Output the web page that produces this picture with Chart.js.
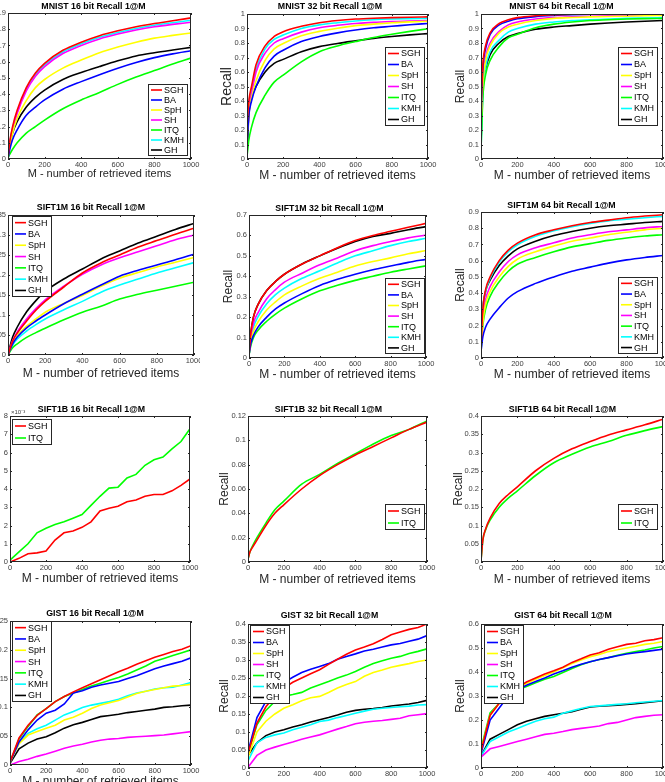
<!DOCTYPE html>
<html>
<head>
<meta charset="utf-8">
<script src="https://cdn.jsdelivr.net/npm/chart.js@4.4.1/dist/chart.umd.min.js"></script>
<style>
  html, body { margin: 0; padding: 0; background: #fff; }
  #page { position: relative; width: 665px; height: 782px; overflow: hidden; background: #fff; }
  #page canvas { position: absolute; }
</style>
</head>
<body>
<div id="page"></div>
<script>
// ----------------------------
// DATA
// ----------------------------
const M_SMOOTH = [1, 10, 25, 50, 100, 150, 200, 300, 400, 500, 600, 700, 800, 900, 1000];
const M_FINE = [0, 50, 100, 150, 200, 250, 300, 350, 400, 450, 500, 550, 600, 650, 700, 750, 800, 850, 900, 950, 1000];
const X_TICKS = [0, 200, 400, 600, 800, 1000];
const METHODS = ["SGH", "BA", "SpH", "SH", "ITQ", "KMH", "GH"];

const MNIST16 = {
  SGH: [0.02, 0.11, 0.2, 0.3, 0.44, 0.53, 0.59, 0.67, 0.72, 0.76, 0.79, 0.815, 0.835, 0.852, 0.87],
  BA:  [0.01, 0.06, 0.12, 0.18, 0.27, 0.32, 0.364, 0.43, 0.477, 0.52, 0.56, 0.595, 0.625, 0.648, 0.667],
  SpH: [0.02, 0.08, 0.16, 0.25, 0.36, 0.44, 0.49, 0.56, 0.61, 0.655, 0.69, 0.72, 0.745, 0.762, 0.777],
  SH:  [0.02, 0.1, 0.18, 0.28, 0.42, 0.51, 0.57, 0.65, 0.7, 0.74, 0.77, 0.795, 0.815, 0.83, 0.843],
  ITQ: [0.01, 0.03, 0.06, 0.1, 0.16, 0.2, 0.24, 0.31, 0.364, 0.41, 0.46, 0.505, 0.545, 0.585, 0.622],
  KMH: [0.02, 0.1, 0.19, 0.29, 0.43, 0.52, 0.58, 0.66, 0.71, 0.75, 0.78, 0.805, 0.825, 0.84, 0.855],
  GH:  [0.02, 0.09, 0.16, 0.23, 0.32, 0.38, 0.425, 0.49, 0.533, 0.57, 0.605, 0.635, 0.655, 0.672, 0.688]
};
const MNIST32 = {
  SGH: [0.25, 0.4, 0.5, 0.65, 0.78, 0.845, 0.878, 0.915, 0.94, 0.955, 0.965, 0.971, 0.975, 0.978, 0.98],
  BA:  [0.12, 0.3, 0.4, 0.5, 0.63, 0.71, 0.75, 0.81, 0.845, 0.87, 0.89, 0.905, 0.915, 0.926, 0.935],
  SpH: [0.15, 0.32, 0.42, 0.54, 0.68, 0.76, 0.797, 0.85, 0.88, 0.902, 0.92, 0.93, 0.94, 0.946, 0.95],
  SH:  [0.2, 0.36, 0.45, 0.6, 0.73, 0.8, 0.83, 0.875, 0.905, 0.922, 0.935, 0.942, 0.948, 0.951, 0.954],
  ITQ: [0.03, 0.13, 0.22, 0.32, 0.44, 0.53, 0.578, 0.67, 0.74, 0.78, 0.81, 0.838, 0.86, 0.88, 0.898],
  KMH: [0.2, 0.38, 0.48, 0.62, 0.76, 0.825, 0.855, 0.9, 0.925, 0.94, 0.952, 0.96, 0.965, 0.968, 0.97],
  GH:  [0.05, 0.3, 0.42, 0.5, 0.6, 0.66, 0.687, 0.74, 0.775, 0.797, 0.815, 0.832, 0.845, 0.856, 0.865]
};
const MNIST64 = {
  SGH: [0.4, 0.65, 0.78, 0.87, 0.935, 0.96, 0.975, 0.988, 0.995, 0.998, 1.0, 1.0, 1.0, 1.0, 1.0],
  BA:  [0.35, 0.62, 0.76, 0.86, 0.925, 0.95, 0.967, 0.982, 0.99, 0.995, 0.998, 1.0, 1.0, 1.0, 1.0],
  SpH: [0.3, 0.52, 0.68, 0.78, 0.87, 0.91, 0.93, 0.955, 0.97, 0.976, 0.98, 0.983, 0.985, 0.988, 0.99],
  SH:  [0.3, 0.55, 0.7, 0.8, 0.88, 0.925, 0.945, 0.965, 0.975, 0.98, 0.985, 0.988, 0.99, 0.992, 0.995],
  ITQ: [0.1, 0.42, 0.58, 0.68, 0.775, 0.835, 0.86, 0.905, 0.93, 0.945, 0.955, 0.96, 0.965, 0.968, 0.97],
  KMH: [0.1, 0.45, 0.63, 0.74, 0.82, 0.875, 0.9, 0.93, 0.945, 0.955, 0.96, 0.965, 0.97, 0.972, 0.975],
  GH:  [0.15, 0.5, 0.62, 0.72, 0.8, 0.845, 0.865, 0.895, 0.91, 0.92, 0.93, 0.938, 0.945, 0.95, 0.955]
};
const SIFT1M16 = {
  SGH: [0.001, 0.015, 0.035, 0.055, 0.085, 0.112, 0.134, 0.17, 0.205, 0.23, 0.25, 0.27, 0.286, 0.302, 0.317],
  BA:  [0.001, 0.012, 0.028, 0.045, 0.068, 0.085, 0.1, 0.128, 0.152, 0.175, 0.197, 0.212, 0.225, 0.238, 0.252],
  SpH: [0.001, 0.013, 0.03, 0.048, 0.072, 0.09, 0.107, 0.129, 0.149, 0.172, 0.192, 0.206, 0.22, 0.232, 0.244],
  SH:  [0.001, 0.016, 0.036, 0.058, 0.09, 0.116, 0.138, 0.172, 0.202, 0.225, 0.243, 0.258, 0.273, 0.288, 0.3],
  ITQ: [0.001, 0.008, 0.018, 0.028, 0.044, 0.056, 0.067, 0.088, 0.107, 0.122, 0.14, 0.152, 0.162, 0.172, 0.182],
  KMH: [0.001, 0.011, 0.025, 0.04, 0.06, 0.076, 0.09, 0.113, 0.134, 0.157, 0.175, 0.19, 0.205, 0.218, 0.231],
  GH:  [0.002, 0.02, 0.045, 0.07, 0.108, 0.136, 0.159, 0.19, 0.215, 0.24, 0.26, 0.28, 0.297, 0.314, 0.329]
};
const SIFT1M32 = {
  SGH: [0.03, 0.12, 0.2, 0.26, 0.33, 0.375, 0.41, 0.46, 0.5, 0.54, 0.575, 0.6, 0.62, 0.64, 0.659],
  BA:  [0.02, 0.07, 0.11, 0.15, 0.2, 0.24, 0.269, 0.315, 0.355, 0.385, 0.41, 0.432, 0.45, 0.468, 0.483],
  SpH: [0.02, 0.08, 0.13, 0.175, 0.235, 0.275, 0.309, 0.353, 0.39, 0.42, 0.45, 0.472, 0.49, 0.51, 0.526],
  SH:  [0.03, 0.1, 0.17, 0.22, 0.29, 0.335, 0.371, 0.415, 0.456, 0.49, 0.525, 0.55, 0.57, 0.588, 0.602],
  ITQ: [0.02, 0.06, 0.1, 0.135, 0.18, 0.215, 0.244, 0.29, 0.329, 0.356, 0.38, 0.4, 0.42, 0.436, 0.451],
  KMH: [0.02, 0.09, 0.15, 0.2, 0.265, 0.31, 0.342, 0.39, 0.427, 0.465, 0.5, 0.525, 0.55, 0.57, 0.586],
  GH:  [0.03, 0.12, 0.2, 0.26, 0.33, 0.375, 0.41, 0.46, 0.5, 0.537, 0.57, 0.595, 0.61, 0.628, 0.643]
};
const SIFT1M64 = {
  SGH: [0.1, 0.3, 0.42, 0.5, 0.6, 0.665, 0.708, 0.76, 0.79, 0.815, 0.835, 0.85, 0.865, 0.875, 0.883],
  BA:  [0.05, 0.13, 0.19, 0.24, 0.31, 0.37, 0.409, 0.46, 0.5, 0.535, 0.56, 0.585, 0.605, 0.62, 0.632],
  SpH: [0.08, 0.22, 0.33, 0.41, 0.5, 0.565, 0.609, 0.655, 0.69, 0.72, 0.74, 0.76, 0.775, 0.79, 0.8],
  SH:  [0.08, 0.25, 0.36, 0.44, 0.53, 0.595, 0.636, 0.68, 0.71, 0.74, 0.76, 0.778, 0.79, 0.802, 0.811],
  ITQ: [0.06, 0.2, 0.3, 0.38, 0.47, 0.535, 0.578, 0.62, 0.655, 0.685, 0.705, 0.725, 0.74, 0.752, 0.76],
  KMH: [0.1, 0.3, 0.41, 0.49, 0.59, 0.655, 0.698, 0.75, 0.785, 0.81, 0.83, 0.845, 0.855, 0.865, 0.873],
  GH:  [0.1, 0.3, 0.41, 0.48, 0.57, 0.63, 0.673, 0.72, 0.755, 0.78, 0.8, 0.815, 0.825, 0.835, 0.842]
};
const SIFT1B16 = {
  SGH: [0, 0.0002, 0.00045, 0.0005, 0.0006, 0.0012, 0.0016, 0.0017, 0.0019, 0.0022, 0.0028, 0.00295, 0.00305, 0.0033, 0.0034, 0.0036, 0.0037, 0.0037, 0.0039, 0.0042, 0.00455],
  ITQ: [0.0001, 0.00055, 0.001, 0.0016, 0.00185, 0.00205, 0.0022, 0.0024, 0.0026, 0.0031, 0.0036, 0.00405, 0.0041, 0.0046, 0.0048, 0.0053, 0.0056, 0.00575, 0.0062, 0.0066, 0.0073]
};
const SIFT1B32 = {
  SGH: [0.003, 0.008, 0.012, 0.018, 0.03, 0.04, 0.047, 0.06, 0.071, 0.08, 0.088, 0.095, 0.102, 0.109, 0.115],
  ITQ: [0.003, 0.008, 0.013, 0.02, 0.032, 0.043, 0.05, 0.064, 0.072, 0.081, 0.089, 0.097, 0.104, 0.109, 0.116]
};
const SIFT1B64 = {
  SGH: [0.01, 0.06, 0.09, 0.12, 0.16, 0.185, 0.206, 0.25, 0.284, 0.31, 0.33, 0.348, 0.362, 0.376, 0.391],
  ITQ: [0.01, 0.06, 0.088, 0.115, 0.15, 0.175, 0.195, 0.237, 0.272, 0.295, 0.315, 0.33, 0.347, 0.36, 0.371]
};
const GIST16 = {
  SGH: [0.005, 0.047, 0.069, 0.086, 0.098, 0.11, 0.119, 0.127, 0.134, 0.141, 0.148, 0.155, 0.162, 0.168, 0.175, 0.181, 0.187, 0.192, 0.197, 0.201, 0.207],
  BA:  [0.005, 0.04, 0.061, 0.078, 0.09, 0.095, 0.106, 0.125, 0.129, 0.135, 0.139, 0.142, 0.145, 0.15, 0.155, 0.161, 0.167, 0.172, 0.176, 0.18, 0.186],
  SpH: [0.005, 0.037, 0.052, 0.058, 0.064, 0.069, 0.078, 0.083, 0.09, 0.098, 0.104, 0.108, 0.112, 0.118, 0.124, 0.128, 0.131, 0.134, 0.137, 0.138, 0.14],
  SH:  [0, 0.006, 0.01, 0.015, 0.019, 0.024, 0.029, 0.033, 0.036, 0.04, 0.043, 0.045, 0.046, 0.048, 0.049, 0.05, 0.051, 0.052, 0.054, 0.056, 0.058],
  ITQ: [0.005, 0.045, 0.067, 0.087, 0.098, 0.11, 0.119, 0.125, 0.131, 0.137, 0.142, 0.147, 0.152, 0.158, 0.165, 0.172, 0.18, 0.185, 0.19, 0.195, 0.2],
  KMH: [0.005, 0.038, 0.055, 0.063, 0.069, 0.078, 0.087, 0.093, 0.1, 0.104, 0.107, 0.11, 0.114, 0.12, 0.125, 0.128, 0.132, 0.134, 0.135, 0.139, 0.143],
  GH:  [0.003, 0.028, 0.038, 0.045, 0.049, 0.056, 0.064, 0.07, 0.074, 0.079, 0.084, 0.086, 0.088, 0.091, 0.093, 0.095, 0.097, 0.1, 0.101, 0.103, 0.104]
};
const GIST32 = {
  SGH: [0.04, 0.125, 0.17, 0.2, 0.222, 0.238, 0.25, 0.262, 0.273, 0.288, 0.302, 0.316, 0.328, 0.336, 0.345, 0.357, 0.37, 0.378, 0.385, 0.39, 0.4],
  BA:  [0.045, 0.14, 0.185, 0.215, 0.237, 0.252, 0.265, 0.274, 0.282, 0.29, 0.302, 0.31, 0.317, 0.325, 0.33, 0.336, 0.342, 0.346, 0.352, 0.358, 0.368],
  SpH: [0.03, 0.1, 0.13, 0.15, 0.166, 0.176, 0.187, 0.195, 0.199, 0.21, 0.222, 0.232, 0.24, 0.255, 0.265, 0.272, 0.28, 0.285, 0.29, 0.296, 0.3],
  SH:  [0.002, 0.035, 0.05, 0.058, 0.065, 0.072, 0.08, 0.086, 0.092, 0.1, 0.108, 0.115, 0.123, 0.127, 0.13, 0.132, 0.135, 0.138, 0.145, 0.148, 0.151],
  ITQ: [0.04, 0.12, 0.16, 0.185, 0.199, 0.204, 0.21, 0.222, 0.231, 0.24, 0.25, 0.258, 0.268, 0.28, 0.29, 0.298, 0.305, 0.31, 0.318, 0.324, 0.331],
  KMH: [0.02, 0.07, 0.085, 0.092, 0.097, 0.106, 0.113, 0.12, 0.129, 0.133, 0.14, 0.146, 0.152, 0.158, 0.163, 0.166, 0.168, 0.17, 0.172, 0.175, 0.176],
  GH:  [0.035, 0.07, 0.09, 0.1, 0.106, 0.114, 0.12, 0.128, 0.134, 0.14, 0.147, 0.155, 0.16, 0.163, 0.165, 0.168, 0.172, 0.175, 0.178, 0.182, 0.188]
};
const GIST64 = {
  SGH: [0.07, 0.22, 0.27, 0.31, 0.335, 0.358, 0.375, 0.392, 0.405, 0.42, 0.44, 0.455, 0.471, 0.48, 0.495, 0.505, 0.515, 0.52, 0.53, 0.535, 0.543],
  BA:  [0.06, 0.2, 0.25, 0.3, 0.325, 0.345, 0.36, 0.375, 0.392, 0.405, 0.42, 0.432, 0.443, 0.452, 0.46, 0.468, 0.475, 0.48, 0.485, 0.49, 0.495],
  SpH: [0.07, 0.22, 0.27, 0.31, 0.33, 0.352, 0.37, 0.385, 0.4, 0.418, 0.435, 0.45, 0.464, 0.473, 0.485, 0.493, 0.5, 0.507, 0.515, 0.52, 0.527],
  SH:  [0.045, 0.08, 0.09, 0.1, 0.11, 0.12, 0.13, 0.14, 0.145, 0.152, 0.16, 0.165, 0.17, 0.175, 0.185, 0.19, 0.2, 0.21, 0.215, 0.22, 0.222],
  ITQ: [0.08, 0.23, 0.27, 0.305, 0.325, 0.34, 0.355, 0.37, 0.381, 0.398, 0.415, 0.43, 0.443, 0.452, 0.46, 0.47, 0.478, 0.485, 0.492, 0.5, 0.506],
  KMH: [0.05, 0.11, 0.13, 0.15, 0.165, 0.18, 0.195, 0.205, 0.212, 0.228, 0.238, 0.248, 0.256, 0.259, 0.262, 0.265, 0.268, 0.272, 0.275, 0.278, 0.281],
  GH:  [0.05, 0.12, 0.14, 0.16, 0.18, 0.195, 0.205, 0.215, 0.222, 0.228, 0.235, 0.245, 0.254, 0.257, 0.26, 0.262, 0.265, 0.268, 0.272, 0.276, 0.28]
};

const CHARTS = [
  { title: "MNIST 16 bit Recall 1@M",  x: M_SMOOTH, data: MNIST16,  yMax: 0.9,   yStep: 0.1 },
  { title: "MNIST 32 bit Recall 1@M",  x: M_SMOOTH, data: MNIST32,  yMax: 1,     yStep: 0.1 },
  { title: "MNIST 64 bit Recall 1@M",  x: M_SMOOTH, data: MNIST64,  yMax: 1,     yStep: 0.1 },
  { title: "SIFT1M 16 bit Recall 1@M", x: M_SMOOTH, data: SIFT1M16, yMax: 0.35,  yStep: 0.05 },
  { title: "SIFT1M 32 bit Recall 1@M", x: M_SMOOTH, data: SIFT1M32, yMax: 0.7,   yStep: 0.1 },
  { title: "SIFT1M 64 bit Recall 1@M", x: M_SMOOTH, data: SIFT1M64, yMax: 0.9,   yStep: 0.1 },
  { title: "SIFT1B 16 bit Recall 1@M", x: M_FINE,   data: SIFT1B16, yMax: 0.008, yStep: 0.001, exponent: "×10⁻³" },
  { title: "SIFT1B 32 bit Recall 1@M", x: M_SMOOTH, data: SIFT1B32, yMax: 0.12,  yStep: 0.02 },
  { title: "SIFT1B 64 bit Recall 1@M", x: M_SMOOTH, data: SIFT1B64, yMax: 0.4,   yStep: 0.05 },
  { title: "GIST 16 bit Recall 1@M",   x: M_FINE,   data: GIST16,   yMax: 0.25,  yStep: 0.05 },
  { title: "GIST 32 bit Recall 1@M",   x: M_FINE,   data: GIST32,   yMax: 0.4,   yStep: 0.05 },
  { title: "GIST 64 bit Recall 1@M",   x: M_FINE,   data: GIST64,   yMax: 0.6,   yStep: 0.1 }
];

// ----------------------------
// LOOK
// ----------------------------
const FONT = "'Liberation Sans', Arial, Helvetica, sans-serif";
const AXIS_COLOR = "#262626";
const TICK_COLOR = "#404040";
const COLORS = {
  SGH: "#ff0000", BA: "#0000ff", SpH: "#ffff00", SH: "#ff00ff",
  ITQ: "#00ff00", KMH: "#00ffff", GH: "#000000"
};

// plot box in page pixels: [left, top, right, bottom]
const LAYOUT = [
  { plot: [8, 13, 191, 159],   titleX: 93.5,  titleY: 7,     xTitleY: 174.3, xTitleSize: 11, recallX: null, legend: { corner: "se", dx: 3, dy: 3, rowH: 10 } },
  { plot: [247, 14, 428, 159], titleX: 330,   titleY: 7,     xTitleY: 175.7, xTitleSize: 12, recallX: 227, recallSize: 14, legend: { corner: "ne", dx: 3, dy: 33, rowH: 11 } },
  { plot: [481, 14, 663, 159], titleX: 561.5, titleY: 7,     xTitleY: 175.7, xTitleSize: 12, recallX: 461, recallSize: 12, legend: { corner: "ne", dx: 5, dy: 33, rowH: 11 } },
  { plot: [8, 215, 194, 355],  titleX: 91,    titleY: 207.7, xTitleY: 374,   xTitleSize: 12, recallX: null, legend: { corner: "nw", dx: 4, dy: 1, rowH: 11.3 } },
  { plot: [249, 215, 426, 358], titleX: 329.5, titleY: 208.3, xTitleY: 375,  xTitleSize: 12, recallX: 229, recallSize: 12, legend: { corner: "se", dx: 1, dy: 4, rowH: 10.6 } },
  { plot: [481, 212, 663, 358], titleX: 561.5, titleY: 205.7, xTitleY: 375,  xTitleSize: 12, recallX: 461, recallSize: 12, legend: { corner: "se", dx: 5, dy: 4, rowH: 10.7 } },
  { plot: [10, 416, 190, 562], titleX: 91.7,  titleY: 410,   xTitleY: 579.3, xTitleSize: 12, recallX: null, legend: { corner: "nw", dx: 2, dy: 3, rowH: 12 } },
  { plot: [248, 416, 427, 562], titleX: 328.5, titleY: 409.3, xTitleY: 580,  xTitleSize: 12, recallX: 225, recallSize: 12, legend: { corner: "se", dx: 2, dy: 32, rowH: 12 } },
  { plot: [481, 416, 663, 562], titleX: 562.5, titleY: 410,   xTitleY: 580,  xTitleSize: 12, recallX: 459, recallSize: 12, legend: { corner: "se", dx: 5, dy: 32, rowH: 12 } },
  { plot: [10, 621, 191, 765], titleX: 95,    titleY: 614,   xTitleY: 782,   xTitleSize: 12, recallX: null, legend: { corner: "nw", dx: 2, dy: 0, rowH: 11.3 } },
  { plot: [248, 624, 427, 768], titleX: 329.5, titleY: 616,   xTitleY: 792,  xTitleSize: 12, recallX: 225, recallSize: 12, legend: { corner: "nw", dx: 2, dy: 1, rowH: 11 } },
  { plot: [481, 624, 663, 768], titleX: 563,   titleY: 616,   xTitleY: 792,  xTitleSize: 12, recallX: 461, recallSize: 12, legend: { corner: "nw", dx: 3, dy: 1, rowH: 11 } }
];

const TITLE_SIZE = 8.8;
const TITLE_LH = 1.2;

// ----------------------------
// PLUGINS
// ----------------------------
// axes box with inward tick marks (matlab style)
const frame = {
  id: "frame",
  afterDatasetsDraw(chart, args, opts) {
    const { ctx, chartArea: a, scales } = chart;
    const tl = 2;
    ctx.save();
    ctx.strokeStyle = AXIS_COLOR;
    ctx.lineWidth = 1;
    ctx.beginPath();
    scales.x.ticks.forEach(t => {
      const px = Math.round(scales.x.getPixelForValue(t.value)) + 0.5;
      ctx.moveTo(px, a.bottom); ctx.lineTo(px, a.bottom - tl);
      ctx.moveTo(px, a.top); ctx.lineTo(px, a.top + tl);
    });
    scales.y.ticks.forEach(t => {
      const py = Math.round(scales.y.getPixelForValue(t.value)) + 0.5;
      ctx.moveTo(a.left, py); ctx.lineTo(a.left + tl, py);
      ctx.moveTo(a.right, py); ctx.lineTo(a.right - tl, py);
    });
    ctx.stroke();
    ctx.strokeRect(Math.round(a.left) + 0.5, Math.round(a.top) + 0.5,
                   Math.round(a.width) - 1, Math.round(a.height) - 1);
    if (opts.exponent) {
      ctx.fillStyle = TICK_COLOR;
      ctx.font = "6px " + FONT;
      ctx.textAlign = "left";
      ctx.textBaseline = "bottom";
      ctx.fillText(opts.exponent, a.left + 1, a.top - 1);
    }
    ctx.restore();
  }
};

// legend drawn as a box inside the plot
const boxLegend = {
  id: "boxLegend",
  afterDraw(chart, args, opts) {
    const { ctx, chartArea: a } = chart;
    const sets = chart.data.datasets;
    ctx.save();
    ctx.font = "9px " + FONT;
    const textW = Math.max(...sets.map(d => ctx.measureText(d.label).width));
    const w = Math.round(16 + textW + 4);
    const h = Math.round(sets.length * opts.rowH + 2);
    let left, top;
    if (opts.corner[1] === "e") left = a.right - opts.dx - w;
    else left = a.left + opts.dx;
    if (opts.corner[0] === "n") top = a.top + opts.dy;
    else top = a.bottom - opts.dy - h;
    left = Math.round(left); top = Math.round(top);

    ctx.fillStyle = "#fff";
    ctx.fillRect(left, top, w, h);
    ctx.strokeStyle = AXIS_COLOR;
    ctx.lineWidth = 1;
    ctx.strokeRect(left + 0.5, top + 0.5, w - 1, h - 1);

    ctx.textAlign = "left";
    ctx.textBaseline = "middle";
    sets.forEach((d, i) => {
      const cy = top + 1 + opts.rowH * (i + 0.5);
      ctx.strokeStyle = d.borderColor;
      ctx.lineWidth = 1.6;
      ctx.beginPath();
      ctx.moveTo(left + 3, cy);
      ctx.lineTo(left + 14, cy);
      ctx.stroke();
      ctx.fillStyle = "#000";
      ctx.fillText(d.label, left + 16, cy + 0.5);
    });
    ctx.restore();
  }
};

// ----------------------------
// BUILD
// ----------------------------
const page = document.getElementById("page");

function fmtTick(v) {
  return String(Math.round(v * 10000) / 10000);
}

CHARTS.forEach((spec, k) => {
  const L = LAYOUT[k];
  const [pl, pt, pr, pb] = L.plot;

  const canvasLeft = L.recallX != null ? L.recallX - 9 : pl - 26;
  const canvasTop = Math.round(L.titleY - 7);
  const leftW = pl - canvasLeft;
  const rightW = Math.max(0, Math.round(2 * L.titleX - canvasLeft - pr));
  const xLH = Math.round(L.xTitleSize * 1.2);
  const xH = Math.round(L.xTitleY - pb + xLH / 2);
  const width = pr + rightW - canvasLeft;
  const height = pb - canvasTop + xH;

  const titleLH = TITLE_SIZE * TITLE_LH;
  const padTop = L.titleY - canvasTop - titleLH / 2;
  const padBottom = Math.max(0, pt - canvasTop - padTop - titleLH);

  const canvas = document.createElement("canvas");
  canvas.width = width;
  canvas.height = height;
  canvas.style.left = canvasLeft + "px";
  canvas.style.top = canvasTop + "px";
  canvas.style.width = width + "px";
  canvas.style.height = height + "px";
  page.appendChild(canvas);

  const smooth = spec.x === M_SMOOTH;
  const datasets = METHODS.filter(m => spec.data[m]).map(m => ({
    label: m,
    data: spec.x.map((mv, i) => ({ x: mv, y: spec.data[m][i] })),
    borderColor: COLORS[m],
    backgroundColor: COLORS[m],
    borderWidth: 1.6,
    pointRadius: 0,
    fill: false,
    cubicInterpolationMode: smooth ? "monotone" : "default",
    tension: 0
  }));

  const tickFont = { family: FONT, size: 7.5 };

  new Chart(canvas, {
    type: "line",
    data: { datasets },
    options: {
      responsive: false,
      animation: false,
      events: [],
      layout: { padding: 0 },
      scales: {
        x: {
          type: "linear",
          min: 0,
          max: 1000,
          grid: { display: false, drawTicks: false },
          border: { display: false },
          afterBuildTicks: s => { s.ticks = X_TICKS.map(v => ({ value: v })); },
          ticks: {
            color: TICK_COLOR, font: tickFont, padding: 1, maxRotation: 0, autoSkip: false,
            callback: v => String(v)
          },
          title: {
            display: true,
            text: "M - number of retrieved items",
            color: AXIS_COLOR,
            font: { family: FONT, size: L.xTitleSize, lineHeight: 1.2 },
            padding: 0
          },
          afterFit: s => { s.height = xH; s.paddingLeft = 0; s.paddingRight = 0; }
        },
        y: {
          type: "linear",
          position: "left",
          min: 0,
          max: spec.yMax,
          grid: { display: false, drawTicks: false },
          border: { display: false },
          ticks: {
            stepSize: spec.yStep,
            color: TICK_COLOR,
            font: tickFont,
            padding: 2,
            callback: spec.exponent ? (v => String(Math.round(v * 1000))) : fmtTick
          },
          title: L.recallX != null ? {
            display: true,
            text: "Recall",
            color: AXIS_COLOR,
            font: { family: FONT, size: L.recallSize, lineHeight: 1 },
            padding: { top: L.recallX - canvasLeft - L.recallSize / 2, bottom: 0 }
          } : { display: false },
          afterFit: s => { s.width = leftW; s.paddingTop = 0; s.paddingBottom = 0; }
        },
        yR: {
          type: "linear",
          position: "right",
          grid: { display: false, drawTicks: false },
          border: { display: false },
          ticks: { display: false },
          afterFit: s => { s.width = rightW; s.paddingTop = 0; s.paddingBottom = 0; }
        }
      },
      plugins: {
        legend: { display: false },
        tooltip: { enabled: false },
        title: {
          display: true,
          text: spec.title,
          color: "#000",
          font: { family: FONT, size: TITLE_SIZE, weight: "bold", lineHeight: TITLE_LH },
          padding: { top: padTop, bottom: padBottom }
        },
        frame: { exponent: spec.exponent || null },
        boxLegend: L.legend
      }
    },
    plugins: [frame, boxLegend]
  });
});
</script>
</body>
</html>
